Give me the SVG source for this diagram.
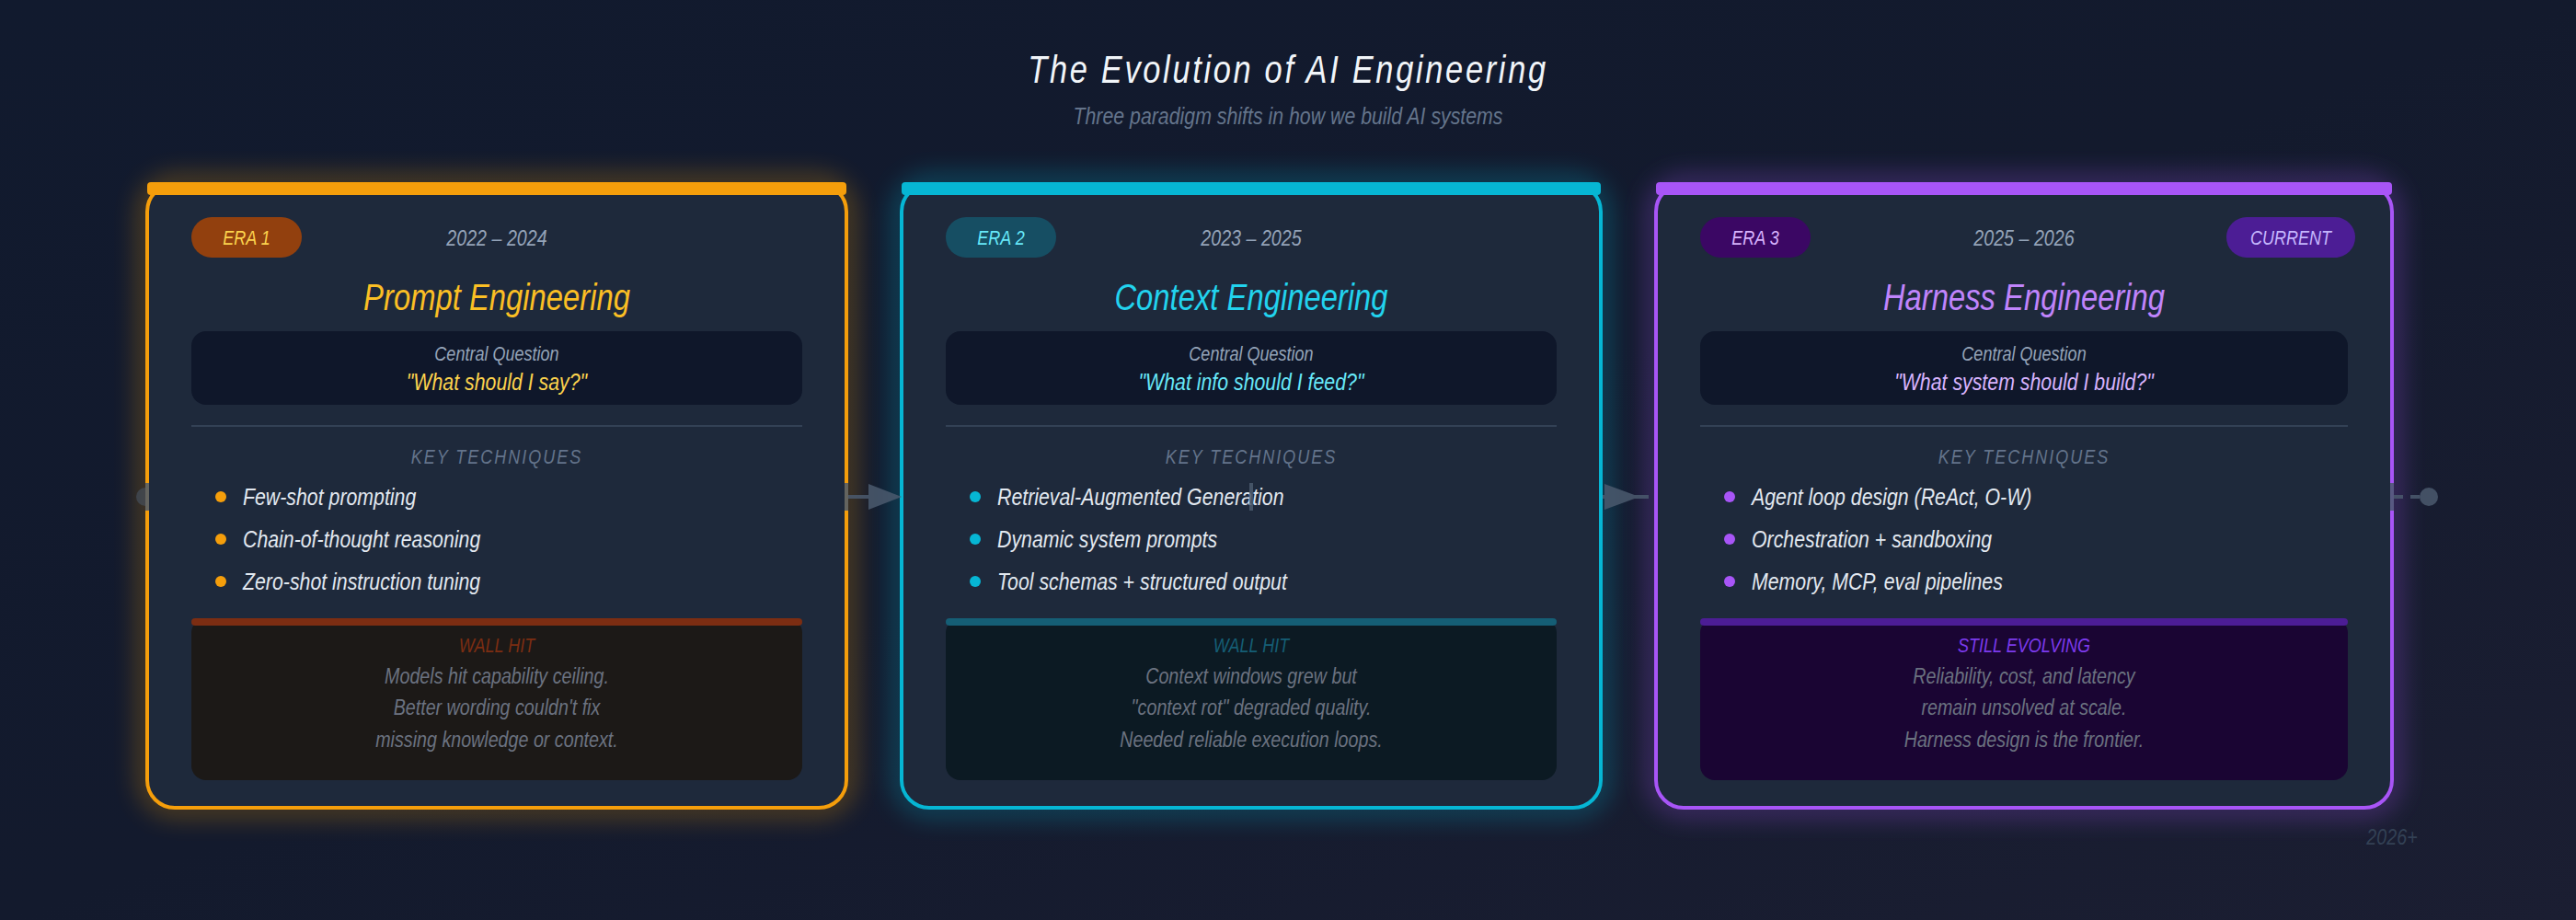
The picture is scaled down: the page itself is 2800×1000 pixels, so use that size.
<svg xmlns="http://www.w3.org/2000/svg" width="2800" height="1000" viewBox="0 0 2800 1000">
<defs>
<linearGradient id="bg" x1="0" y1="0" x2="1" y2="1">
<stop offset="0" stop-color="#111a2e"/>
<stop offset="0.5" stop-color="#131a2d"/>
<stop offset="1" stop-color="#1b1e32"/>
</linearGradient>
<filter id="glow" x="-20%" y="-20%" width="140%" height="140%">
<feGaussianBlur stdDeviation="14"/>
</filter>
<style>
text{font-family:"Liberation Sans Narrow","Liberation Sans",Arial,sans-serif;font-style:italic;transform:scale(0.82,1);}
.c{text-anchor:middle;}
.title{font-size:42px;fill:#f1f5f9;letter-spacing:3.25px;}
.sub{font-size:26px;fill:#64748b;}
.pill{font-size:22px;}
.date{font-size:24px;fill:#94a3b8;}
.h{font-size:40px;}
.cq{font-size:22px;fill:#94a3b8;}
.q{font-size:26px;}
.kt{font-size:22px;fill:#64748b;letter-spacing:2.4px;}
.li{font-size:26px;fill:#e2e8f0;}
.wl{font-size:22px;}
.wt{font-size:24px;fill:#6b7280;}
.card{fill:#1e293b;stroke-width:4;}
.qbox{fill:#0f172a;}
.div{stroke:#334155;stroke-width:2;}
.conn{fill:#4b5a6e;}
</style>
</defs>
<rect width="2800" height="1000" fill="url(#bg)"/>

<g id="header">
<text class="title c" x="1707.32" y="90">The Evolution of AI Engineering</text>
<text class="sub c" x="1707.32" y="135">Three paradigm shifts in how we build AI systems</text>
</g>

<g id="era1">
<rect x="160" y="200" width="760" height="678" rx="30" fill="none" stroke="#f59e0b" stroke-width="14" opacity="0.45" filter="url(#glow)"/>
<rect class="card" x="160" y="200" width="760" height="678" rx="30" stroke="#f59e0b"/>
<rect x="160" y="198" width="760" height="14" rx="4" fill="#f59e0b"/>
<rect x="208" y="236" width="120" height="44" rx="22" fill="#92400e"/>
<text class="pill c" x="326.83" y="266" fill="#fcd34d">ERA 1</text>
<text class="date c" x="658.54" y="267">2022 – 2024</text>
<text class="h c" x="658.54" y="337" fill="#fbbf24">Prompt Engineering</text>
<rect class="qbox" x="208" y="360" width="664" height="80" rx="16"/>
<text class="cq c" x="658.54" y="392">Central Question</text>
<text class="q c" x="658.54" y="424" fill="#fcd34d">"What should I say?"</text>
<line class="div" x1="208" y1="463" x2="872" y2="463"/>
<text class="kt c" x="658.54" y="504">KEY TECHNIQUES</text>
<circle cx="240" cy="540" r="6" fill="#f59e0b"/>
<text class="li" x="321.95" y="549">Few-shot prompting</text>
<circle cx="240" cy="586" r="6" fill="#f59e0b"/>
<text class="li" x="321.95" y="595">Chain-of-thought reasoning</text>
<circle cx="240" cy="632" r="6" fill="#f59e0b"/>
<text class="li" x="321.95" y="641">Zero-shot instruction tuning</text>
<rect x="208" y="672" width="664" height="176" rx="16" fill="#1c1917"/>
<rect x="208" y="672" width="664" height="8" rx="4" fill="#7c2d12"/>
<text class="wl c" x="658.54" y="709" fill="#7c2d12">WALL HIT</text>
<text class="wt c" x="658.54" y="743">Models hit capability ceiling.</text>
<text class="wt c" x="658.54" y="777">Better wording couldn't fix</text>
<text class="wt c" x="658.54" y="812">missing knowledge or context.</text>
</g>

<g id="era2">
<rect x="980" y="200" width="760" height="678" rx="30" fill="none" stroke="#06b6d4" stroke-width="14" opacity="0.45" filter="url(#glow)"/>
<rect class="card" x="980" y="200" width="760" height="678" rx="30" stroke="#06b6d4"/>
<rect x="980" y="198" width="760" height="14" rx="4" fill="#06b6d4"/>
<rect x="1028" y="236" width="120" height="44" rx="22" fill="#164e63"/>
<text class="pill c" x="1326.83" y="266" fill="#67e8f9">ERA 2</text>
<text class="date c" x="1658.54" y="267">2023 – 2025</text>
<text class="h c" x="1658.54" y="337" fill="#22d3ee">Context Engineering</text>
<rect class="qbox" x="1028" y="360" width="664" height="80" rx="16"/>
<text class="cq c" x="1658.54" y="392">Central Question</text>
<text class="q c" x="1658.54" y="424" fill="#67e8f9">"What info should I feed?"</text>
<line class="div" x1="1028" y1="463" x2="1692" y2="463"/>
<text class="kt c" x="1658.54" y="504">KEY TECHNIQUES</text>
<circle cx="1060" cy="540" r="6" fill="#06b6d4"/>
<text class="li" x="1321.95" y="549">Retrieval-Augmented Generation</text>
<circle cx="1060" cy="586" r="6" fill="#06b6d4"/>
<text class="li" x="1321.95" y="595">Dynamic system prompts</text>
<circle cx="1060" cy="632" r="6" fill="#06b6d4"/>
<text class="li" x="1321.95" y="641">Tool schemas + structured output</text>
<rect x="1028" y="672" width="664" height="176" rx="16" fill="#0c1a23"/>
<rect x="1028" y="672" width="664" height="8" rx="4" fill="#155e75"/>
<text class="wl c" x="1658.54" y="709" fill="#155e75">WALL HIT</text>
<text class="wt c" x="1658.54" y="743">Context windows grew but</text>
<text class="wt c" x="1658.54" y="777">"context rot" degraded quality.</text>
<text class="wt c" x="1658.54" y="812">Needed reliable execution loops.</text>
</g>

<g id="era3">
<rect x="1800" y="200" width="800" height="678" rx="30" fill="none" stroke="#a855f7" stroke-width="14" opacity="0.45" filter="url(#glow)"/>
<rect class="card" x="1800" y="200" width="800" height="678" rx="30" stroke="#a855f7"/>
<rect x="1800" y="198" width="800" height="14" rx="4" fill="#a855f7"/>
<rect x="1848" y="236" width="120" height="44" rx="22" fill="#3b0764"/>
<text class="pill c" x="2326.83" y="266" fill="#d8b4fe">ERA 3</text>
<rect x="2420" y="236" width="140" height="44" rx="22" fill="#4c1d95"/>
<text class="pill c" x="3036.59" y="266" fill="#c4b5fd">CURRENT</text>
<text class="date c" x="2682.93" y="267">2025 – 2026</text>
<text class="h c" x="2682.93" y="337" fill="#c084fc">Harness Engineering</text>
<rect class="qbox" x="1848" y="360" width="704" height="80" rx="16"/>
<text class="cq c" x="2682.93" y="392">Central Question</text>
<text class="q c" x="2682.93" y="424" fill="#d8b4fe">"What system should I build?"</text>
<line class="div" x1="1848" y1="463" x2="2552" y2="463"/>
<text class="kt c" x="2682.93" y="504">KEY TECHNIQUES</text>
<circle cx="1880" cy="540" r="6" fill="#a855f7"/>
<text class="li" x="2321.95" y="549">Agent loop design (ReAct, O-W)</text>
<circle cx="1880" cy="586" r="6" fill="#a855f7"/>
<text class="li" x="2321.95" y="595">Orchestration + sandboxing</text>
<circle cx="1880" cy="632" r="6" fill="#a855f7"/>
<text class="li" x="2321.95" y="641">Memory, MCP, eval pipelines</text>
<rect x="1848" y="672" width="704" height="176" rx="16" fill="#1a0533"/>
<rect x="1848" y="672" width="704" height="8" rx="4" fill="#4c1d95"/>
<text class="wl c" x="2682.93" y="709" fill="#7c3aed">STILL EVOLVING</text>
<text class="wt c" x="2682.93" y="743">Reliability, cost, and latency</text>
<text class="wt c" x="2682.93" y="777">remain unsolved at scale.</text>
<text class="wt c" x="2682.93" y="812">Harness design is the frontier.</text>
</g>

<g id="connectors" opacity="0.85">
<path class="conn" d="M158,530 A10,10 0 0 0 158,550 Z" opacity="0.6"/>
<rect class="conn" x="158" y="525" width="4" height="30"/>
<rect class="conn" x="918" y="525" width="4" height="30"/>
<line x1="922" y1="540" x2="946" y2="540" stroke="#4b5a6e" stroke-width="4"/>
<polygon class="conn" points="944,526 980,540 944,554"/>
<rect class="conn" x="1358" y="525" width="4" height="30"/>
<line x1="1742" y1="540" x2="1792" y2="540" stroke="#4b5a6e" stroke-width="4"/>
<polygon class="conn" points="1744,526 1782,540 1744,554"/>
<rect class="conn" x="2598" y="525" width="4" height="30"/>
<line x1="2602" y1="540" x2="2632" y2="540" stroke="#4b5a6e" stroke-width="4" stroke-dasharray="10 8"/>
<circle class="conn" cx="2640" cy="540" r="10"/>
</g>

<text x="3170.73" y="918" class="c" font-size="24" fill="#334155">2026+</text>
</svg>
